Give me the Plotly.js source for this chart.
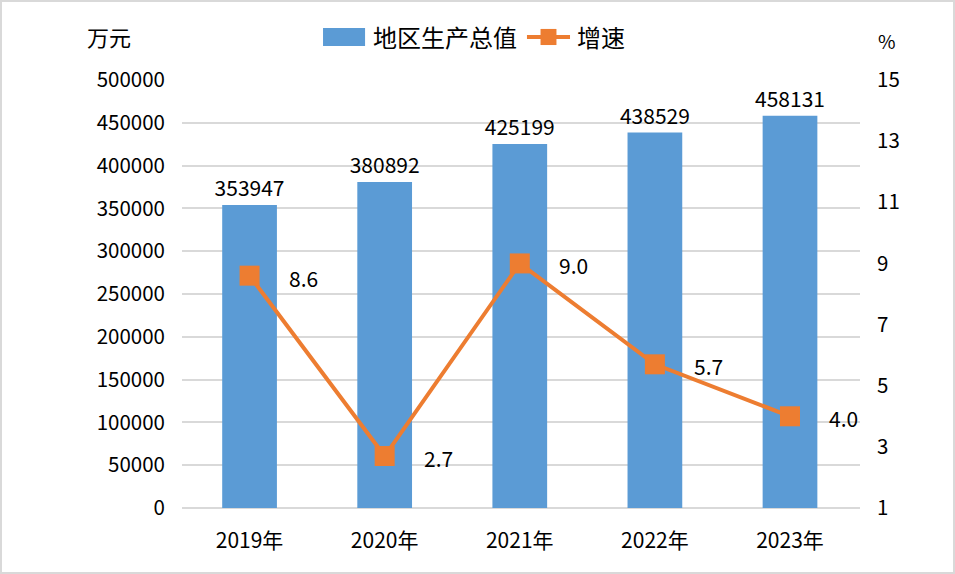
<!DOCTYPE html>
<html>
<head>
<meta charset="utf-8">
<script src="https://cdn.plot.ly/plotly-3.0.1.min.js"></script>
<style>
  html, body { margin: 0; padding: 0; background: #fff; }
  #wrap { position: relative; width: 955px; height: 574px; }
  #chart { width: 955px; height: 574px; }
  #frame { position: absolute; left: 0; top: 0; width: 951px; height: 570px; border: 2px solid #D9D9D9; pointer-events: none; }
</style>
</head>
<body>
<div id="wrap">
  <div id="chart"></div>
  <div id="frame"></div>
</div>
<script>
const categories = ["2019年", "2020年", "2021年", "2022年", "2023年"];
const gdpValues = [353947, 380892, 425199, 438529, 458131];
const growthValues = [8.6, 2.7, 9.0, 5.7, 4.0];
const growthLabels = ["8.6", "2.7", "9.0", "5.7", "4.0"];
const leftTicks = [0, 50000, 100000, 150000, 200000, 250000, 300000, 350000, 400000, 450000, 500000];
const rightTicks = [1, 3, 5, 7, 9, 11, 13, 15];
const seriesNames = ["地区生产总值", "增速"];

const FONT = '"Noto Sans CJK SC", "Noto Sans", sans-serif';
const BLUE = '#5B9BD5';
const ORANGE = '#ED7D31';

const traces = [
  {
    type: 'bar',
    name: seriesNames[0],
    x: categories,
    y: gdpValues,
    marker: { color: BLUE },
    text: gdpValues.map(String),
    textposition: 'outside',
    constraintext: 'none',
    cliponaxis: false,
    textfont: { family: FONT, size: 21, color: '#000' },
    hoverinfo: 'skip',
    showlegend: false
  },
  {
    type: 'scatter',
    mode: 'lines+markers',
    name: seriesNames[1],
    x: categories,
    y: growthValues,
    yaxis: 'y2',
    line: { color: ORANGE, width: 4 },
    marker: { color: ORANGE, symbol: 'square', size: 20 },
    hoverinfo: 'skip',
    showlegend: false
  }
];

const annotations = categories.map((c, i) => ({
  x: c, y: growthValues[i], xref: 'x', yref: 'y2',
  text: growthLabels[i], showarrow: false,
  xanchor: 'left', yanchor: 'middle', xshift: 37, yshift: -2,
  font: { family: FONT, size: 21, color: '#000' }
}));
annotations.push({
  xref: 'paper', yref: 'paper', x: -0.108, y: 1.0, yshift: 44,
  text: '万元', showarrow: false, xanchor: 'center', yanchor: 'middle',
  font: { family: FONT, size: 22, color: '#000' }
});
annotations.push({
  xref: 'paper', yref: 'paper', x: 1.04, y: 1.0, yshift: 40,
  text: '%', showarrow: false, xanchor: 'center', yanchor: 'middle',
  font: { family: FONT, size: 19, color: '#000' }
});
// custom legend texts
annotations.push({
  xref: 'paper', yref: 'paper', x: 0.279, y: 1.1005,
  text: seriesNames[0], showarrow: false, xanchor: 'left', yanchor: 'middle',
  font: { family: FONT, size: 24, color: '#000' }
});
annotations.push({
  xref: 'paper', yref: 'paper', x: 0.5796, y: 1.1005,
  text: seriesNames[1], showarrow: false, xanchor: 'left', yanchor: 'middle',
  font: { family: FONT, size: 24, color: '#000' }
});

const shapes = [
  { type: 'rect', xref: 'paper', yref: 'paper', x0: 0.208, x1: 0.270, y0: 1.0794, y1: 1.1215,
    fillcolor: BLUE, line: { width: 0 } },
  { type: 'line', xref: 'paper', yref: 'paper', x0: 0.5088, x1: 0.5723, y0: 1.1005, y1: 1.1005,
    line: { color: ORANGE, width: 4 } },
  { type: 'rect', xref: 'paper', yref: 'paper', x0: 0.5288, x1: 0.5523, y0: 1.0817, y1: 1.1193,
    fillcolor: ORANGE, line: { width: 0 } }
];

const layout = {
  width: 955, height: 574,
  margin: { l: 182, r: 95, t: 80, b: 66 },
  paper_bgcolor: '#fff', plot_bgcolor: '#fff',
  font: { family: FONT, size: 20, color: '#000' },
  bargap: 0.595,
  showlegend: false,
  xaxis: {
    type: 'category', showgrid: false, zeroline: false,
    showline: false, ticks: '',
    tickfont: { family: FONT, size: 21, color: '#000' },
    ticklabelstandoff: 18
  },
  yaxis: {
    range: [0, 500000], tickvals: leftTicks, ticktext: leftTicks.map(String),
    showgrid: true, gridcolor: '#D9D9D9', gridwidth: 2,
    zeroline: true, zerolinecolor: '#D9D9D9', zerolinewidth: 2,
    showline: false, ticks: '', ticklabelstandoff: 16,
    tickfont: { family: FONT, size: 20.5, color: '#000' }
  },
  yaxis2: {
    overlaying: 'y', side: 'right', range: [1, 15],
    tickvals: rightTicks, ticktext: rightTicks.map(String),
    showgrid: false, zeroline: false, showline: false, ticks: '',
    ticklabelstandoff: 16,
    tickfont: { family: FONT, size: 20.5, color: '#000' }
  },
  shapes: shapes,
  annotations: annotations
};

Plotly.newPlot('chart', traces, layout, { displayModeBar: false, staticPlot: true });
</script>
</body>
</html>
